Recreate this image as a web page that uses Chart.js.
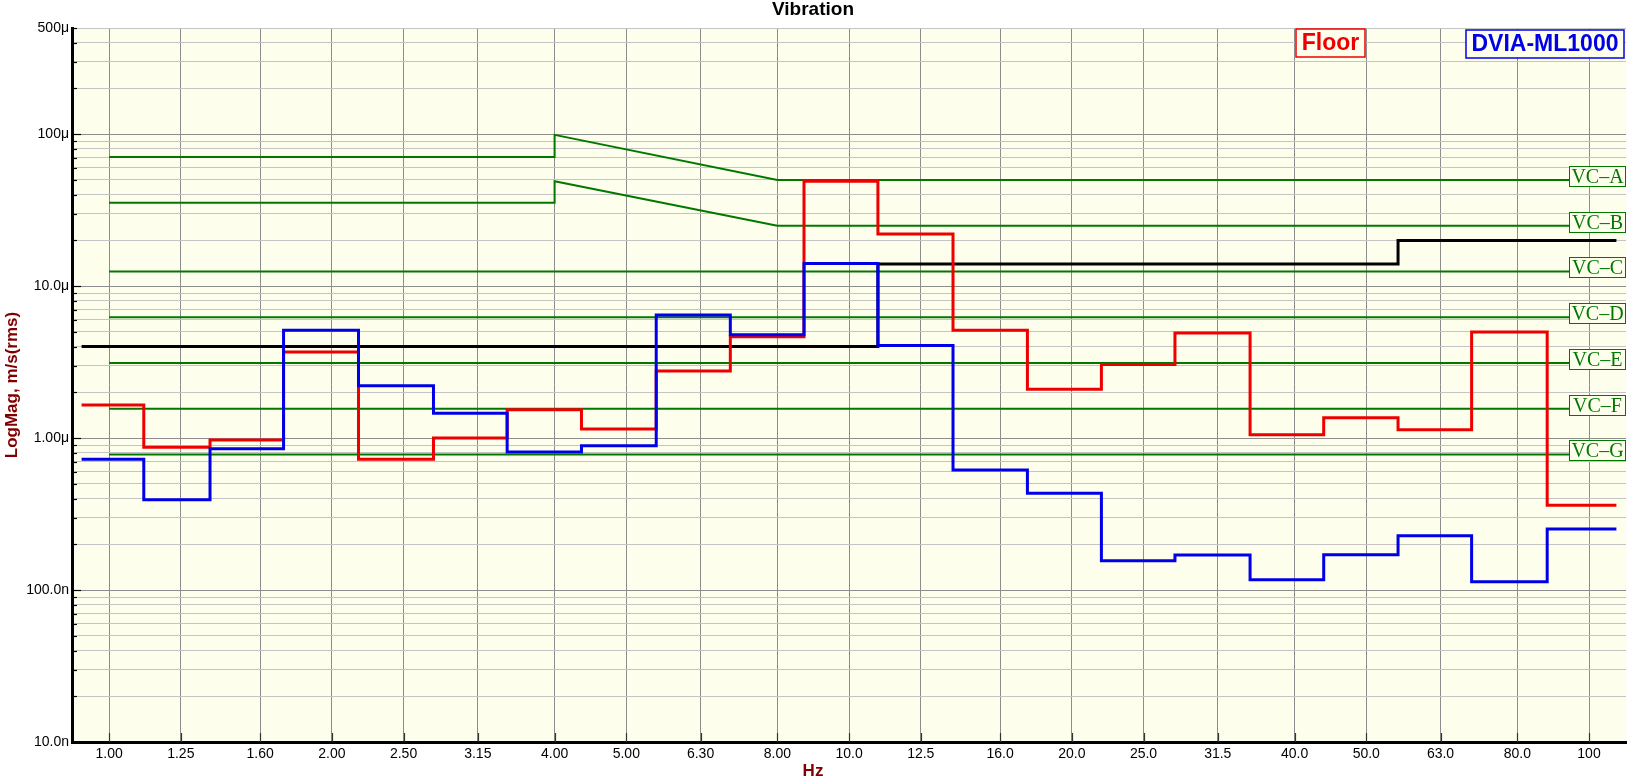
<!DOCTYPE html>
<html><head><meta charset="utf-8">
<script src="https://cdn.jsdelivr.net/npm/chart.js@4.4.1/dist/chart.umd.min.js"></script>
<style>html,body{margin:0;padding:0;background:#fff}#wrap{width:1633px;height:781px}</style>
</head><body><div id="wrap"><canvas id="c" width="1633" height="781"></canvas></div>
<script>
// ---- data (velocities in μm/s rms, frequencies in Hz) ----
const bandLabels = ['1.00','1.25','1.60','2.00','2.50','3.15','4.00','5.00','6.30','8.00','10.0','12.5','16.0','20.0','25.0','31.5','40.0','50.0','63.0','80.0','100'];
const bandCenters = [1,1.25,1.6,2,2.5,3.15,4,5,6.3,8,10,12.5,16,20,25,31.5,40,50,63,80,100];
const bandEdges = [0.918,1.114,1.369,1.721,2.173,2.744,3.451,4.349,5.488,6.911,8.692,10.94,13.82,17.42,21.93,27.57,34.83,43.8,55.2,69.4,87.8,108.9];
const floorVel = [1.65,0.872,0.970,3.68,0.727,1.00,1.535,1.146,2.76,4.64,49.1,22.0,5.13,2.10,3.05,4.91,1.051,1.36,1.134,5.00,0.362];
const dviaVel = [0.727,0.393,0.850,5.13,2.21,1.46,0.809,0.890,6.45,4.78,14.09,4.07,0.616,0.434,0.156,0.170,0.117,0.171,0.228,0.1134,0.252];
const limitVel = [4,4,4,4,4,4,4,4,4,4,4,14,14,14,14,14,14,14,20,20,20];
const vcSlopeFreq = [1,4,4,8,100];
const vcAcurve = [70.7,70.7,99,50,50];
const vcBcurve = [35.4,35.4,49,25,25];
const vcFlatFreq = [1,100];
const vcNames = ['VC\u2013A','VC\u2013B','VC\u2013C','VC\u2013D','VC\u2013E','VC\u2013F','VC\u2013G'];
const vcLevels = [50,25,12.5,6.25,3.12,1.56,0.78];
const seriesNames = ['Floor','DVIA-ML1000'];
const yDecades = [0.01,0.1,1,10,100];
const yMultipliers = [1,2,3,4,5,6,7,8,9];
const yLabelValues = [0.01,0.1,1,10,100,500];
const yTickLabels = ['10.0n','100.0n','1.00\u03bc','10.0\u03bc','100\u03bc','500\u03bc'];
const xRange = [0.891,112.2];
const yRange = [0.01,500];

// ---- styles ----
const RED = '#EE0000', BLUE = '#0000E8', GREEN = '#007800', BG = '#FEFEEC';
const FONT = 'Liberation Sans, Arial, sans-serif';

function stepPoints(edges, vals){
  const pts = vals.map((v,i)=>({x:edges[i], y:v}));
  pts.push({x:edges[vals.length], y:vals[vals.length-1]});
  return pts;
}
function pairPoints(xs, ys){ return xs.map((x,i)=>({x:x, y:ys[i]})); }

const yTickValues = [];
yDecades.forEach(d=>yMultipliers.forEach(m=>{ const v = m*d; if (v <= yRange[1]*1.0001) yTickValues.push(v); }));
const isMajor = v => Math.abs(Math.log10(v) - Math.round(Math.log10(v))) < 1e-6;

const datasets = [];
datasets.push({label:seriesNames[1], data:stepPoints(bandEdges,dviaVel), borderColor:BLUE, borderWidth:3, stepped:true, order:0});
datasets.push({label:seriesNames[0], data:stepPoints(bandEdges,floorVel), borderColor:RED, borderWidth:3, stepped:true, order:1});
datasets.push({label:'limit', data:stepPoints(bandEdges,limitVel), borderColor:'#000', borderWidth:3, stepped:true, order:2});
datasets.push({label:vcNames[0], data:pairPoints(vcSlopeFreq,vcAcurve), borderColor:GREEN, borderWidth:2, order:3});
datasets.push({label:vcNames[1], data:pairPoints(vcSlopeFreq,vcBcurve), borderColor:GREEN, borderWidth:2, order:3});
for (let i=2;i<vcLevels.length;i++){
  datasets.push({label:vcNames[i], data:pairPoints(vcFlatFreq,[vcLevels[i],vcLevels[i]]), borderColor:GREEN, borderWidth:2, order:3});
}
datasets.forEach(d=>{d.pointRadius=0; d.fill=false; d.tension=0; d.borderJoinStyle='miter'; d.borderCapStyle='butt';});

const decoPlugin = {
  id:'deco',
  beforeDraw(chart){
    const a = chart.chartArea, ctx = chart.ctx;
    ctx.save(); ctx.fillStyle = BG; ctx.fillRect(a.left, a.top, a.right-a.left, a.bottom-a.top); ctx.restore();
  },
  beforeDatasetsDraw(chart){
    const a = chart.chartArea, ctx = chart.ctx, xs = chart.scales.x, ys = chart.scales.y;
    ctx.save(); ctx.strokeStyle = '#000'; ctx.lineWidth = 1.2;
    ys.ticks.forEach(t=>{
      const y = Math.round(ys.getPixelForValue(t.value))+0.5;
      const len = isMajor(t.value) ? 9 : 5;
      ctx.beginPath(); ctx.moveTo(a.left, y); ctx.lineTo(a.left+len, y); ctx.stroke();
    });
    ctx.strokeStyle = '#333';
    xs.ticks.forEach(t=>{
      const x = Math.round(xs.getPixelForValue(t.value))+0.5;
      ctx.beginPath(); ctx.moveTo(x, a.bottom); ctx.lineTo(x, a.bottom-9); ctx.stroke();
    });
    ctx.restore();
  },
  afterDatasetsDraw(chart){
    const a = chart.chartArea, ctx = chart.ctx, ys = chart.scales.y;
    ctx.save();
    // VC labels
    ctx.font = '20px "Liberation Serif", "Times New Roman", serif';
    ctx.textAlign = 'center'; ctx.textBaseline = 'middle';
    vcLevels.forEach((lv,i)=>{
      const y = ys.getPixelForValue(lv);
      const w = 57, h = 20, x0 = a.right - w, y0 = Math.round(y - 14) + 0.5;
      ctx.fillStyle = BG; ctx.fillRect(x0, y0, w, h);
      ctx.strokeStyle = GREEN; ctx.lineWidth = 1; ctx.strokeRect(x0+0.5, y0, w-1, h);
      ctx.fillStyle = GREEN; ctx.fillText(vcNames[i], x0 + w/2, y0 + h/2 + 1);
    });
    // legend boxes
    ctx.font = 'bold 23px ' + FONT;
    const boxes = [{t:seriesNames[0], c:RED, x:a.right-330, w:69, y:a.top+1},
                   {t:seriesNames[1], c:BLUE, x:a.right-160, w:158, y:a.top+2}];
    boxes.forEach(b=>{
      ctx.fillStyle = BG; ctx.fillRect(b.x, b.y, b.w, 28);
      ctx.strokeStyle = b.c; ctx.lineWidth = 1.5; ctx.strokeRect(b.x, b.y, b.w, 28);
      ctx.fillStyle = b.c; ctx.fillText(b.t, b.x + b.w/2, b.y + 15);
    });
    ctx.restore();
  }
};

new Chart(document.getElementById('c'), {
  type:'line',
  data:{datasets:datasets},
  plugins:[decoPlugin],
  options:{
    responsive:false, animation:false, devicePixelRatio:1,
    layout:{padding:{left:0,right:7,top:0,bottom:0}},
    plugins:{
      legend:{display:false}, tooltip:{enabled:false},
      title:{display:true, text:'Vibration', color:'#000', font:{family:FONT, size:19, weight:'bold', lineHeight:1}, padding:{top:0,bottom:9}},
      subtitle:{display:true, position:'bottom', text:'Hz', color:'#800000', font:{family:FONT, size:17, weight:'bold', lineHeight:1}, padding:{top:0,bottom:1}}
    },
    scales:{
      x:{
        type:'logarithmic', min:xRange[0], max:xRange[1],
        afterBuildTicks:s=>{ s.ticks = bandCenters.map(v=>({value:v})); },
        afterFit:s=>{ s.height = 21; },
        ticks:{autoSkip:false, maxRotation:0, minRotation:0, padding:4, color:'#000', font:{family:FONT, size:14},
               callback:(v,i)=>bandLabels[i]},
        grid:{color:'#8C8C8C', lineWidth:1, drawTicks:false},
        border:{display:true, color:'#000', width:3}
      },
      y:{
        type:'logarithmic', min:yRange[0], max:yRange[1],
        afterBuildTicks:s=>{ s.ticks = yTickValues.map(v=>({value:v})); },
        afterFit:s=>{ s.width = 72; },
        ticks:{autoSkip:false, padding:3, color:'#000', font:{family:FONT, size:14},
               callback:(v)=>{ const k = yLabelValues.findIndex(l=>Math.abs(Math.log10(l)-Math.log10(v))<1e-6); return k>=0 ? yTickLabels[k] : ''; }},
        grid:{drawTicks:false, lineWidth:1, color:c=> (c.tick && isMajor(c.tick.value)) ? '#8C8C8C' : '#C4C4C4'},
        border:{display:true, color:'#000', width:3},
        title:{display:true, text:'LogMag, m/s(rms)', color:'#800000', font:{family:FONT, size:17, weight:'bold', lineHeight:1}, padding:{top:4,bottom:0}}
      }
    }
  }
});
</script></body></html>
